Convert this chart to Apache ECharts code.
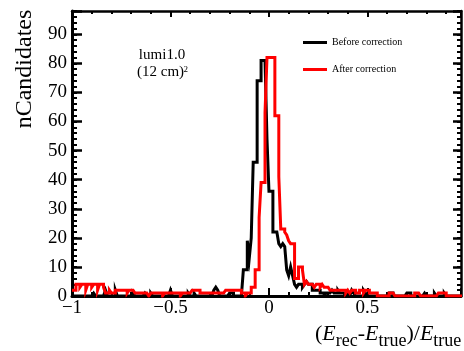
<!DOCTYPE html>
<html><head><meta charset="utf-8">
<script src="https://cdn.jsdelivr.net/npm/echarts@6/dist/echarts.min.js"></script>
<style>html,body{margin:0;padding:0;background:#fff}#c{width:464px;height:351px}</style>
</head><body><div id="c"></div>
<script>
// Histogram binning (x categories): bins of width 0.01 starting at -1
const binStart = -1.0;
const binWidth = 0.01;

// Counts per bin
const beforeCounts = [
  0,0,0,0,0,0,0,0,0,0,
  0,1,0,0,0,0,0,2,0,0,
  0,0,2,0,0,0,0,0,0,0,
  0,1,0,0,0,0,0,1,0,0,
  1,0,0,0,0,0,0,0,0,0,
  2,0,0,0,0,0,0,0,0,1,
  0,0,1,0,0,0,0,0,0,0,
  0,0,2,3,2,0,0,0,0,0,
  1,1,0,0,0,0,0,9,9,19,
  13,20,46,46,74,74,81,81,81,54,
  36,36,22,22,22,18,17,18,17,9,
  7,10,7,4,3,4,4,3,4,5,
  4,4,2,2,2,2,1,1,0,1,
  1,1,2,1,1,2,1,1,1,0,
  1,0,2,1,0,0,0,0,2,1,
  0,0,0,0,0,0,0,0,0,0,
  0,1,1,0,0,0,0,0,0,0,
  1,1,0,0,0,0,0,0,0,1,
  0,0,0,0,1,0,0,0,0,1,
  0,0,0,0,0,0,0,0
];
const afterCounts = [
  2,2,4,4,3,4,4,2,4,4,
  3,4,4,2,4,4,3,1,1,2,
  1,1,2,2,2,2,2,2,1,2,
  2,2,1,1,1,1,1,1,1,0,
  1,1,1,1,1,1,0,1,1,1,
  1,1,1,1,1,0,1,1,1,1,
  1,2,2,2,2,1,1,1,1,1,
  1,1,1,1,1,1,1,1,2,2,
  2,2,2,2,2,2,1,1,0,1,
  1,3,3,9,9,27,39,39,63,82,
  82,82,82,62,62,41,23,23,22,21,
  19,18,18,6,6,10,10,9,4,5,
  4,4,4,3,4,4,3,4,3,3,
  3,2,2,2,2,2,2,2,2,1,
  2,1,2,2,1,1,2,2,1,2,
  2,1,1,1,1,0,0,0,0,0,
  0,1,1,1,0,0,0,0,0,0,
  0,0,0,0,1,1,1,0,0,0,
  0,0,0,0,0,0,1,1,1,1,
  0,0,0,0,0,0,0,0
];

const seriesNames = ['Before correction', 'After correction'];
const seriesColors = ['#000000', '#ff0000'];
const xMajorTicks = [-1, -0.5, 0, 0.5];
const yMajorTicks = [0, 10, 20, 30, 40, 50, 60, 70, 80, 90];
const X_MIN = -1, X_MAX = 0.975, Y_MIN = 0, Y_MAX = 98;
const FONT = 'Liberation Serif';

function stepData(counts) {
  const d = [];
  for (let i = 0; i < counts.length; i++) {
    d.push([+(binStart + i * binWidth).toFixed(4), counts[i]]);
  }
  d.push([+(binStart + counts.length * binWidth).toFixed(4), counts[counts.length - 1]]);
  return d;
}

function fmtX(v) {
  for (const t of xMajorTicks) {
    if (Math.abs(v - t) < 1e-6) return t < 0 ? '\u2212' + Math.abs(t) : String(t);
  }
  return '';
}
function fmtY(v) {
  for (const t of yMajorTicks) { if (Math.abs(v - t) < 1e-6) return String(t); }
  return '';
}

function mkAxis(position, min, max, interval, tickLen, tickW, lineW, labelFmt) {
  return {
    type: 'value', position: position, min: min, max: max, interval: interval,
    axisLine: { show: lineW > 0, onZero: false, lineStyle: { color: '#000', width: lineW } },
    axisTick: { show: true, inside: true, length: tickLen, lineStyle: { color: '#000', width: tickW } },
    minorTick: { show: false },
    splitLine: { show: false },
    axisLabel: labelFmt ? {
      show: true, formatter: labelFmt, color: '#000', fontFamily: FONT, fontSize: 19,
      margin: (position === 'bottom' ? 3 : 5), hideOverlap: false, showMinLabel: true, showMaxLabel: true
    } : { show: false }
  };
}

const chart = echarts.init(document.getElementById('c'), null, { renderer: 'canvas' });
chart.setOption({
  animation: false,
  backgroundColor: '#fff',
  grid: { left: 72, right: 2, top: 11, bottom: 55, containLabel: false },
  xAxis: [
    mkAxis('bottom', X_MIN, X_MAX, 0.5, 8, 2, 3, fmtX),
    mkAxis('bottom', X_MIN, X_MAX, 0.1, 4, 2, 0, null),
    mkAxis('top', X_MIN, X_MAX, 0.5, 6, 2, 2.5, null),
    mkAxis('top', X_MIN, X_MAX, 0.1, 3, 2, 0, null)
  ],
  yAxis: [
    mkAxis('left', Y_MIN, Y_MAX, 10, 10, 2.5, 3, fmtY),
    mkAxis('left', Y_MIN, Y_MAX, 2, 5, 2, 0, null),
    mkAxis('right', Y_MIN, Y_MAX, 10, 8, 2.5, 2.5, null),
    mkAxis('right', Y_MIN, Y_MAX, 2, 4, 2, 0, null)
  ],
  legend: {
    data: seriesNames, orient: 'vertical', left: 303, top: 36.5, padding: 0,
    icon: 'rect', itemWidth: 24, itemHeight: 3, itemGap: 15,
    itemStyle: { borderWidth: 0 },
    textStyle: { fontFamily: FONT, fontSize: 10, color: '#000', lineHeight: 12 }
  },
  series: [
    {
      name: seriesNames[0], type: 'line', step: 'end', symbol: 'none', showSymbol: false,
      xAxisIndex: 0, yAxisIndex: 0, color: seriesColors[0], clip: true,
      lineStyle: { color: seriesColors[0], width: 3, join: 'miter' },
      data: stepData(beforeCounts), z: 3
    },
    {
      name: seriesNames[1], type: 'line', step: 'end', symbol: 'none', showSymbol: false,
      xAxisIndex: 0, yAxisIndex: 0, color: seriesColors[1], clip: true,
      lineStyle: { color: seriesColors[1], width: 3, join: 'miter' },
      data: stepData(afterCounts), z: 4
    }
  ],
  graphic: [
    { type: 'text', x: 25, y: 69, rotation: Math.PI / 2,
      style: { text: 'nCandidates', font: '24px "Liberation Serif"', fill: '#000',
        textAlign: 'center', textVerticalAlign: 'middle', align: 'center', verticalAlign: 'middle' } },
    { type: 'text', x: 162, y: 55,
      style: { text: 'lumi1.0', font: '15px "Liberation Serif"', fill: '#000',
        textAlign: 'center', textVerticalAlign: 'middle', align: 'center', verticalAlign: 'middle' } },
    { type: 'text', x: 137, y: 72,
      style: { text: '(12 cm)', font: '15px "Liberation Serif"', fill: '#000',
        textAlign: 'left', textVerticalAlign: 'middle', align: 'left', verticalAlign: 'middle' } },
    { type: 'text', x: 183.5, y: 65,
      style: { text: '2', font: '9px "Liberation Serif"', fill: '#000',
        textAlign: 'left', textVerticalAlign: 'top', align: 'left', verticalAlign: 'top' } },
    { type: 'text', x: 315, y: 323,
      style: {
        text: '{n|(}{i|E}{s|rec}{n|-}{i|E}{s|true}{n|)/}{i|E}{s|true}',
        fill: '#000', textAlign: 'left', textVerticalAlign: 'top', align: 'left', verticalAlign: 'top',
        rich: {
          n: { fontFamily: FONT, fontSize: 22, lineHeight: 25, verticalAlign: 'top', fill: '#000' },
          i: { fontFamily: FONT, fontSize: 22, fontStyle: 'italic', lineHeight: 25, verticalAlign: 'top', fill: '#000' },
          s: { fontFamily: FONT, fontSize: 18, lineHeight: 20, padding: [9, 0, 0, 0], verticalAlign: 'top', fill: '#000' }
        }
      } }
  ]
});
</script>
</body></html>
